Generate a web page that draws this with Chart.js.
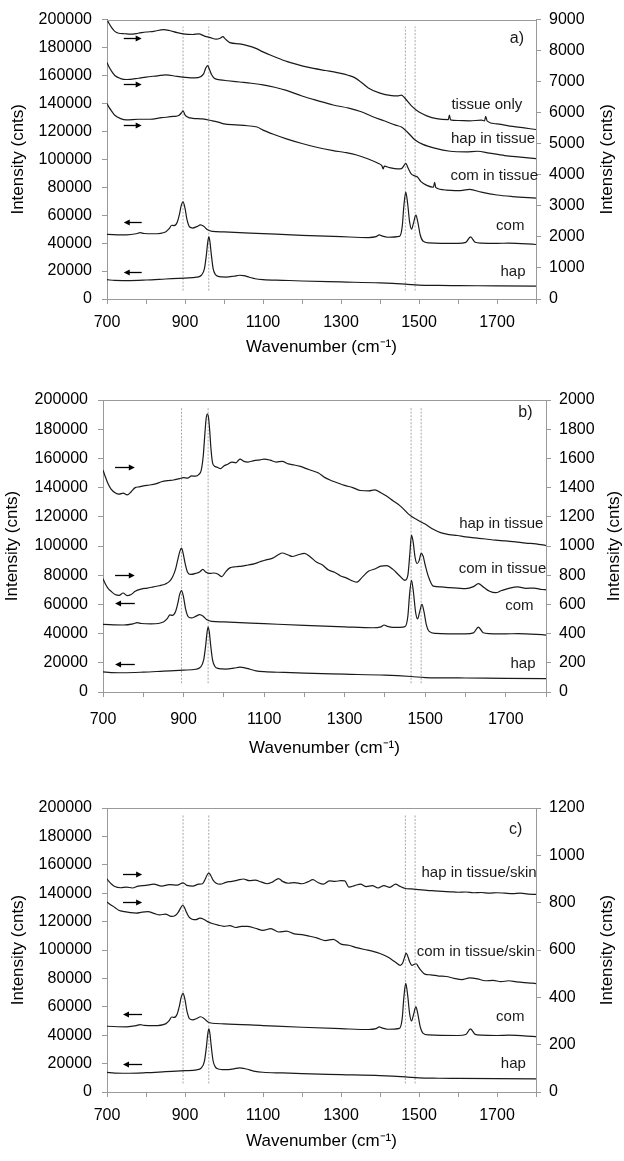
<!DOCTYPE html>
<html>
<head>
<meta charset="utf-8">
<script src="https://cdn.jsdelivr.net/npm/chart.js@4.4.1/dist/chart.umd.min.js"></script>
<style>
  body { margin: 0; background: #fff; width: 624px; height: 1161px; position: relative; overflow: hidden; }
  canvas { position: absolute; left: 0; }
</style>
</head>
<body>
<canvas id="chartA" width="624" height="368" style="top:0px"></canvas>
<canvas id="chartB" width="624" height="385" style="top:380px"></canvas>
<canvas id="chartC" width="624" height="381" style="top:780px"></canvas>
<script>
// ---- data (wavenumber in cm-1, intensity in counts) ----

// reference spectra, left axis (same in all three panels)
const hapX = [700, 720, 750, 800, 850, 900, 930, 942, 950, 955, 958, 961, 964, 967, 972, 978, 985, 995, 1005, 1025, 1040, 1050, 1065, 1080, 1100, 1150, 1200, 1300, 1400, 1465, 1500, 1550, 1600, 1700, 1800];
const hapY = [13800, 13300, 13200, 13600, 14300, 15000, 15600, 17000, 22000, 32000, 40000, 44500, 41000, 33000, 22000, 17500, 16200, 15800, 15700, 16300, 17000, 16700, 15600, 14500, 13900, 13400, 12900, 12200, 11500, 10600, 9900, 9700, 9600, 9400, 9200];

const comX = [700, 750, 775, 785, 795, 820, 850, 860, 866, 872, 880, 886, 890, 895, 900, 905, 912, 920, 930, 940, 948, 958, 970, 1000, 1100, 1200, 1300, 1370, 1390, 1398, 1406, 1420, 1450, 1457, 1461, 1466, 1471, 1476, 1481, 1486, 1492, 1497, 1503, 1510, 1525, 1600, 1620, 1632, 1644, 1660, 1700, 1730, 1800];
const comY = [46300, 45900, 46700, 47500, 46900, 46700, 48000, 50500, 52800, 52500, 55000, 61000, 66500, 69500, 65000, 57000, 51500, 50800, 51800, 53000, 52000, 49500, 48400, 48000, 46800, 45600, 44600, 44000, 44600, 45900, 45000, 44200, 44800, 52000, 66000, 76500, 68000, 55000, 50000, 54500, 60000, 55000, 46000, 41500, 40200, 39800, 40500, 44500, 40600, 40000, 39800, 40000, 39000];

// panel a, right axis
const tissueOnlyX = [700, 705, 712, 720, 730, 745, 760, 780, 800, 820, 845, 860, 880, 900, 920, 935, 950, 965, 980, 990, 997, 1003, 1015, 1040, 1060, 1080, 1100, 1120, 1150, 1180, 1200, 1230, 1260, 1290, 1320, 1335, 1350, 1370, 1400, 1430, 1445, 1455, 1465, 1480, 1500, 1520, 1545, 1575, 1578, 1581, 1600, 1630, 1660, 1668, 1671, 1675, 1700, 1740, 1770, 1800];
const tissueOnlyY = [9000, 8880, 8740, 8620, 8560, 8545, 8530, 8560, 8600, 8620, 8680, 8650, 8580, 8530, 8520, 8540, 8470, 8420, 8370, 8400, 8450, 8380, 8260, 8220, 8160, 8080, 7960, 7850, 7700, 7580, 7510, 7430, 7360, 7290, 7200, 7130, 7000, 6800, 6630, 6550, 6540, 6570, 6450, 6230, 6020, 5900, 5810, 5780, 5920, 5770, 5750, 5740, 5760, 5740, 5880, 5730, 5640, 5560, 5510, 5460];

const hapTissueAX = [700, 705, 712, 720, 735, 750, 780, 800, 830, 850, 880, 900, 925, 940, 948, 953, 958, 962, 968, 975, 990, 1010, 1040, 1070, 1100, 1130, 1160, 1200, 1240, 1280, 1320, 1350, 1380, 1410, 1440, 1455, 1470, 1490, 1510, 1540, 1580, 1620, 1650, 1680, 1720, 1760, 1800];
const hapTissueAY = [7620, 7480, 7330, 7200, 7100, 7070, 7110, 7150, 7190, 7220, 7170, 7140, 7120, 7160, 7260, 7430, 7520, 7420, 7230, 7110, 7060, 7030, 6990, 6950, 6900, 6820, 6720, 6540, 6390, 6250, 6150, 6040, 5880, 5740, 5600, 5540, 5380, 5120, 4980, 4860, 4760, 4740, 4760, 4700, 4620, 4570, 4520];

const comTissueAX = [700, 705, 712, 720, 735, 750, 780, 810, 840, 870, 885, 891, 895, 900, 908, 920, 945, 970, 985, 1000, 1030, 1060, 1085, 1100, 1130, 1160, 1200, 1240, 1280, 1310, 1340, 1370, 1395, 1405, 1408, 1411, 1425, 1445, 1455, 1461, 1466, 1472, 1480, 1490, 1496, 1505, 1520, 1537, 1540, 1543, 1570, 1600, 1630, 1660, 1700, 1740, 1800];
const comTissueAY = [6300, 6180, 6050, 5920, 5810, 5770, 5790, 5790, 5840, 5880, 5920, 6000, 6060, 5930, 5850, 5820, 5800, 5740, 5700, 5640, 5610, 5580, 5540, 5440, 5290, 5160, 5010, 4880, 4780, 4720, 4640, 4510, 4370, 4290, 4190, 4280, 4230, 4190, 4200, 4290, 4370, 4220, 4030, 3960, 3930, 3780, 3660, 3600, 3760, 3590, 3510, 3490, 3530, 3440, 3350, 3300, 3250];

// panel b, right axis
const hapTissueBX = [700, 705, 712, 720, 730, 740, 750, 760, 770, 780, 790, 800, 815, 830, 845, 860, 875, 890, 900, 910, 920, 930, 938, 944, 949, 953, 956, 959, 962, 965, 968, 972, 978, 985, 992, 1000, 1010, 1020, 1030, 1040, 1050, 1060, 1075, 1090, 1100, 1115, 1130, 1145, 1160, 1175, 1190, 1205, 1220, 1235, 1250, 1265, 1280, 1300, 1320, 1340, 1360, 1375, 1390, 1405, 1420, 1440, 1460, 1480, 1500, 1520, 1540, 1560, 1580, 1600, 1625, 1650, 1675, 1700, 1725, 1750, 1775, 1800];
const hapTissueBY = [1520, 1480, 1430, 1390, 1365, 1355, 1362, 1350, 1372, 1400, 1405, 1412, 1418, 1425, 1440, 1448, 1452, 1462, 1468, 1465, 1480, 1478, 1490, 1520, 1620, 1770, 1870, 1904, 1880, 1790, 1670, 1570, 1545, 1538, 1530, 1548, 1560, 1575, 1570, 1595, 1580, 1575, 1585, 1590, 1595, 1588, 1575, 1580, 1562, 1555, 1545, 1530, 1515, 1500, 1470, 1450, 1435, 1415, 1400, 1380, 1378, 1385, 1365, 1340, 1310, 1270, 1215, 1180, 1150, 1115, 1090, 1078, 1072, 1062, 1055, 1048, 1040, 1035, 1028, 1020, 1015, 1003];

const comTissueBX = [700, 705, 712, 720, 730, 740, 750, 760, 770, 780, 795, 810, 825, 840, 855, 865, 873, 880, 886, 891, 895, 899, 904, 910, 918, 930, 940, 948, 955, 965, 975, 985, 995, 1005, 1015, 1030, 1045, 1060, 1075, 1090, 1105, 1120, 1135, 1145, 1160, 1170, 1185, 1200, 1215, 1230, 1245, 1260, 1275, 1290, 1305, 1320, 1330, 1345, 1360, 1375, 1390, 1405, 1420, 1435, 1450, 1457, 1462, 1466, 1470, 1475, 1480, 1485, 1490, 1495, 1500, 1508, 1520, 1540, 1560, 1580, 1600, 1620, 1632, 1645, 1660, 1675, 1690, 1710, 1730, 1750, 1770, 1790, 1800];
const comTissueBY = [775, 745, 712, 690, 668, 662, 678, 660, 668, 690, 705, 712, 720, 728, 740, 758, 790, 840, 910, 965, 985, 950, 880, 820, 805, 812, 822, 840, 822, 812, 815, 808, 790, 825, 850, 858, 862, 870, 878, 892, 905, 915, 940, 952, 938, 928, 940, 950, 925, 890, 870, 835, 820, 795, 780, 760, 752, 790, 828, 842, 862, 865, 840, 800, 765, 800, 950, 1075, 1030, 920, 880, 900, 950, 930, 870, 790, 725, 720, 715, 712, 708, 722, 742, 718, 690, 680, 695, 712, 720, 710, 712, 702, 700];

// panel c, right axis
const hapSkinX = [700, 705, 712, 720, 735, 750, 765, 780, 800, 820, 840, 860, 880, 895, 905, 920, 935, 945, 952, 957, 961, 966, 972, 980, 990, 1005, 1020, 1035, 1050, 1065, 1080, 1095, 1110, 1125, 1140, 1150, 1165, 1180, 1200, 1215, 1228, 1240, 1255, 1270, 1285, 1300, 1310, 1320, 1335, 1350, 1365, 1380, 1395, 1410, 1425, 1440, 1450, 1465, 1480, 1500, 1520, 1540, 1560, 1580, 1600, 1620, 1640, 1660, 1680, 1700, 1720, 1740, 1760, 1780, 1800];
const hapSkinY = [900, 890, 878, 868, 863, 866, 862, 870, 873, 878, 870, 876, 874, 884, 873, 870, 878, 880, 900, 918, 925, 915, 895, 882, 878, 886, 890, 895, 900, 893, 895, 888, 880, 888, 902, 890, 882, 885, 880, 888, 897, 886, 878, 892, 890, 893, 892, 866, 872, 878, 868, 872, 862, 872, 865, 878, 870, 860, 858, 855, 852, 850, 848, 846, 844, 845, 842, 843, 840, 842, 840, 838, 840, 836, 835];

const comSkinX = [700, 710, 720, 730, 745, 760, 775, 790, 805, 820, 835, 850, 865, 875, 883, 889, 894, 898, 903, 910, 918, 928, 938, 948, 958, 970, 985, 1000, 1015, 1030, 1045, 1060, 1080, 1100, 1120, 1140, 1160, 1180, 1200, 1220, 1240, 1260, 1280, 1300, 1320, 1340, 1360, 1380, 1400, 1420, 1440, 1452, 1458, 1463, 1467, 1471, 1476, 1482, 1488, 1493, 1498, 1505, 1515, 1530, 1550, 1570, 1590, 1610, 1630, 1650, 1670, 1690, 1710, 1730, 1750, 1770, 1790, 1800];
const comSkinY = [803, 790, 780, 768, 762, 758, 756, 760, 762, 755, 748, 752, 742, 746, 760, 778, 789, 782, 762, 740, 730, 728, 735, 730, 720, 712, 705, 700, 703, 695, 700, 700, 692, 683, 690, 676, 680, 668, 665, 658, 650, 640, 645, 625, 620, 610, 602, 595, 585, 570, 548, 535, 545, 570, 587, 575, 550, 535, 540, 542, 530, 514, 498, 495, 490, 488, 480, 475, 482, 478, 470, 472, 466, 470, 465, 462, 460, 458];

// dotted reference positions (cm-1)
const peakLines = [895, 961, 1465, 1490];

// axis ticks
const leftTicks = { max: 200000, step: 20000 };
const rightTicksA = { max: 9000, step: 1000 };
const rightTicksB = { max: 2000, step: 200 };
const rightTicksC = { max: 1200, step: 200 };

// ---- drawing ----
Chart.defaults.font.family = '"Liberation Sans", Arial, Helvetica, sans-serif';
Chart.defaults.color = '#000';

const AXIS = '#9a9a9a';
const INK = '#1a1a1a';

function pts(xs, ys) {
  return xs.map((x, i) => ({ x: x, y: ys[i] }));
}

function spectrum(xs, ys, axis) {
  return {
    data: pts(xs, ys), yAxisID: axis,
    borderColor: INK, borderWidth: 1.2, pointRadius: 0,
    cubicInterpolationMode: 'monotone', fill: false
  };
}

function markerLine(x) {
  return {
    data: [{ x: x, y: 6000 }, { x: x, y: 195000 }], yAxisID: 'y',
    borderColor: '#a8a8a8', borderWidth: 1, borderDash: [2, 1.5],
    pointRadius: 0, fill: false
  };
}

const decor = {
  id: 'decor',
  afterDraw(chart, args, o) {
    const { ctx, chartArea: a, scales: { x, y } } = chart;
    ctx.save();
    // top frame line
    ctx.strokeStyle = AXIS;
    ctx.lineWidth = 1;
    ctx.beginPath();
    ctx.moveTo(a.left, Math.round(a.top) + 0.5);
    ctx.lineTo(a.right, Math.round(a.top) + 0.5);
    ctx.stroke();

    // curve labels
    ctx.fillStyle = INK;
    ctx.textAlign = 'center';
    ctx.textBaseline = 'middle';
    ctx.font = '15px "Liberation Sans", Arial, sans-serif';
    o.labels.forEach(l => ctx.fillText(l.text, x.getPixelForValue(l.x), y.getPixelForValue(l.y)));

    ctx.font = '16px "Liberation Sans", Arial, sans-serif';
    ctx.fillText(o.letter.text, x.getPixelForValue(o.letter.x), y.getPixelForValue(o.letter.y));

    // arrows telling which axis a curve belongs to
    ctx.strokeStyle = '#000';
    ctx.fillStyle = '#000';
    ctx.lineWidth = 1.3;
    o.arrows.forEach(ar => {
      const py = Math.round(y.getPixelForValue(ar.y)) + 0.5;
      const x0 = x.getPixelForValue(o.arrowFrom);
      const x1 = x.getPixelForValue(o.arrowTo);
      const tail = ar.dir === 'right' ? x0 : x1;
      const head = ar.dir === 'right' ? x1 : x0;
      const s = ar.dir === 'right' ? 1 : -1;
      ctx.beginPath();
      ctx.moveTo(tail, py);
      ctx.lineTo(head - s * 4, py);
      ctx.stroke();
      ctx.beginPath();
      ctx.moveTo(head, py);
      ctx.lineTo(head - s * 6, py - 3);
      ctx.lineTo(head - s * 6, py + 3);
      ctx.closePath();
      ctx.fill();
    });

    // right axis title, reading bottom to top like the left one
    ctx.fillStyle = '#000';
    ctx.font = '17px "Liberation Sans", Arial, sans-serif';
    ctx.translate(o.rightTitleX, (a.top + a.bottom) / 2);
    ctx.rotate(-Math.PI / 2);
    ctx.fillText('Intensity (cnts)', 0, 0);
    ctx.restore();
  }
};

function makeChart(id, box, rightTicks, series, deco) {
  const canvas = document.getElementById(id);
  const W = canvas.width, H = canvas.height;
  return new Chart(canvas, {
    type: 'line',
    data: { datasets: series.concat(peakLines.map(markerLine)) },
    options: {
      responsive: false,
      animation: false,
      devicePixelRatio: 1,
      layout: { padding: { top: box.top, left: 0, right: 0, bottom: 0 } },
      plugins: { legend: { display: false }, tooltip: { enabled: false }, decor: deco },
      scales: {
        x: {
          type: 'linear', min: 700, max: 1800,
          afterFit: s => { s.height = H - box.bottom; },
          ticks: {
            stepSize: 100, autoSkip: false, maxRotation: 0, padding: box.xPad,
            font: { size: 16 },
            callback: v => ((v - 700) % 200 === 0 && v < 1800) ? String(v) : ''
          },
          grid: { drawOnChartArea: false, tickLength: 5, color: AXIS },
          border: { color: AXIS },
          title: {
            display: true, text: 'Wavenumber (cm\u207B\u00B9)', font: { size: 17 },
            padding: { top: 0, bottom: box.xTitle }
          }
        },
        y: {
          position: 'left', min: 0, max: leftTicks.max,
          afterFit: s => { s.width = box.left; },
          ticks: { stepSize: leftTicks.step, padding: 10, font: { size: 16 }, callback: v => String(v) },
          grid: { drawOnChartArea: false, tickLength: 5, color: AXIS },
          border: { color: AXIS },
          title: {
            display: true, text: 'Intensity (cnts)', font: { size: 17 },
            padding: { top: box.yTitle, bottom: 0 }
          }
        },
        y2: {
          position: 'right', min: 0, max: rightTicks.max,
          afterFit: s => { s.width = W - box.right; },
          ticks: { stepSize: rightTicks.step, padding: 8, font: { size: 16 }, callback: v => String(v) },
          grid: { drawOnChartArea: false, tickLength: 5, color: AXIS },
          border: { color: AXIS }
        }
      }
    },
    plugins: [decor]
  });
}

makeChart('chartA',
  { left: 107, right: 536, top: 16, bottom: 299, xPad: 9, xTitle: 10, yTitle: 8 },
  rightTicksA,
  [
    spectrum(tissueOnlyX, tissueOnlyY, 'y2'),
    spectrum(hapTissueAX, hapTissueAY, 'y2'),
    spectrum(comTissueAX, comTissueAY, 'y2'),
    spectrum(comX, comY, 'y'),
    spectrum(hapX, hapY, 'y')
  ],
  {
    labels: [
      { text: 'tissue only', x: 1674, y: 139300 },
      { text: 'hap in tissue', x: 1690, y: 114600 },
      { text: 'com in tissue', x: 1693, y: 88000 },
      { text: 'com', x: 1734, y: 52500 },
      { text: 'hap', x: 1741, y: 19300 }
    ],
    letter: { text: 'a)', x: 1751, y: 186400 },
    arrowFrom: 743, arrowTo: 789,
    arrows: [
      { dir: 'right', y: 186600 }, { dir: 'right', y: 153900 }, { dir: 'right', y: 124300 },
      { dir: 'left', y: 55100 }, { dir: 'left', y: 19300 }
    ],
    rightTitleX: 607
  });

makeChart('chartB',
  { left: 103, right: 546, top: 20, bottom: 312, xPad: 13, xTitle: 6, yTitle: 2 },
  rightTicksB,
  [
    spectrum(hapTissueBX, hapTissueBY, 'y2'),
    spectrum(comTissueBX, comTissueBY, 'y2'),
    spectrum(comX, comY, 'y'),
    spectrum(hapX, hapY, 'y')
  ],
  {
    labels: [
      { text: 'hap in tissue', x: 1689, y: 114900 },
      { text: 'com in tissue', x: 1692, y: 84400 },
      { text: 'com', x: 1734, y: 59000 },
      { text: 'hap', x: 1743, y: 19200 }
    ],
    letter: { text: 'b)', x: 1749, y: 191300 },
    arrowFrom: 730, arrowTo: 779,
    arrows: [
      { dir: 'right', y: 153900 }, { dir: 'right', y: 80300 },
      { dir: 'left', y: 61300 }, { dir: 'left', y: 19400 }
    ],
    rightTitleX: 614
  });

makeChart('chartC',
  { left: 107, right: 536, top: 28, bottom: 312, xPad: 9, xTitle: 9, yTitle: 8 },
  rightTicksC,
  [
    spectrum(hapSkinX, hapSkinY, 'y2'),
    spectrum(comSkinX, comSkinY, 'y2'),
    spectrum(comX, comY, 'y'),
    spectrum(hapX, hapY, 'y')
  ],
  {
    labels: [
      { text: 'hap in tissue/skin', x: 1654, y: 154400 },
      { text: 'com in tissue/skin', x: 1646, y: 99000 },
      { text: 'com', x: 1734, y: 52800 },
      { text: 'hap', x: 1742, y: 19500 }
    ],
    letter: { text: 'c)', x: 1748, y: 185000 },
    arrowFrom: 741, arrowTo: 790,
    arrows: [
      { dir: 'right', y: 153700 }, { dir: 'right', y: 133800 },
      { dir: 'left', y: 55200 }, { dir: 'left', y: 19500 }
    ],
    rightTitleX: 607
  });
</script>
</body>
</html>
